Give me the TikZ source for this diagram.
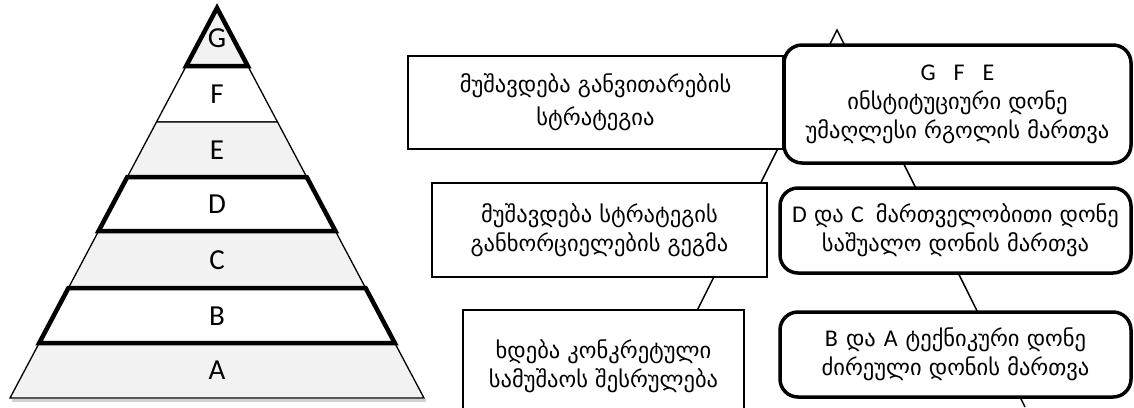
\documentclass[tikz,border=0pt]{standalone}
\usepackage{fontspec}
\setmainfont{Carlito}
\newfontfamily\geo{DejaVu Sans}
\definecolor{hellgrau}{HTML}{F2F2F2}
\newcommand\latn[1]{{\rmfamily\fontsize{24}{29}\selectfont #1}}

\begin{document}
\begin{tikzpicture}[x=1pt,y=-1pt,
	stufe/.style={font=\fontsize{29}{29}\selectfont},
	kasten/.style={draw, line width=2.2pt, fill=white, align=center, inner sep=0pt,
		font=\geo\fontsize{22.5}{29}\selectfont},
	rkasten/.style={kasten, line width=3.5pt, rounded corners=18pt}]
	
	\useasboundingbox (0,0) rectangle (1134,407);
	\clip (0,0) rectangle (1134,407);
	
	%Pyramide links
	\draw[gray!35, line width=2.5pt] (12,400.5) -- (426,400.5); %Schatten
	\draw[line width=1.3pt, fill=white] (186.2,66) -- (247.8,66) -- (277.5,122) -- (156.5,122) -- cycle; %F
	\draw[line width=1.3pt, fill=hellgrau] (156.5,122) -- (277.5,122) -- (306.7,177) -- (127.3,177) -- cycle; %E
	\draw[line width=1.3pt, fill=hellgrau] (98.6,231) -- (335.4,231) -- (365.6,288) -- (68.4,288) -- cycle; %C
	\draw[line width=1.3pt, fill=hellgrau] (39.2,343) -- (394.8,343) -- (424,398) -- (10,398) -- cycle; %A
	\draw[line width=4.5pt, fill=hellgrau] (217,8) -- (247.8,66) -- (186.2,66) -- cycle; %G
	\draw[line width=4.5pt, fill=white] (127.3,177) -- (306.7,177) -- (335.4,231) -- (98.6,231) -- cycle; %D
	\draw[line width=4.5pt, fill=white] (68.4,288) -- (365.6,288) -- (394.8,343) -- (39.2,343) -- cycle; %B
	
	\node[stufe] (g) at (217,38) {G};
	\node[stufe] (f) at (217,94) {F};
	\node[stufe] (e) at (217,150) {E};
	\node[stufe] (d) at (217,204) {D};
	\node[stufe] (c) at (217,260) {C};
	\node[stufe] (b) at (217,316) {B};
	\node[stufe] (a) at (217,370) {A};
	
	%Pyramide rechts (hinter den Kaesten)
	\draw[line width=1.5pt] (649,407) -- (837,30) -- (1025,407);
	
	%Kaesten links
	\node[kasten, minimum width=375, minimum height=93] (strategie) at (595.5,102.5)
		{მუშავდება განვითარების\\[4pt]სტრატეგია};
	\node[kasten, minimum width=335, minimum height=94] (plan) at (599.5,230)
		{მუშავდება სტრატეგის\\განხორციელების გეგმა};
	\node[kasten, minimum width=281, minimum height=112] (arbeit) at (603.5,366)
		{ხდება კონკრეტული\\სამუშაოს შესრულება};
	
	%Kaesten rechts
	\node[rkasten, minimum width=347, minimum height=118] (oben) at (957.5,104)
		{\latn{G\hspace{18pt}F\hspace{18pt}E}\\ინსტიტუციური დონე\\უმაღლესი რგოლის მართვა};
	\node[rkasten, minimum width=351, minimum height=85] (mitte) at (955.5,230.5)
		{\latn{D} და \latn{C}\hspace{12pt}მართველობითი დონე\\საშუალო დონის მართვა};
	\node[rkasten, minimum width=351, minimum height=85] (unten) at (955.5,354.5)
		{\latn{B}\hspace{8pt}და\hspace{8pt}\latn{A}\hspace{8pt}ტექნიკური დონე\\ძირეული დონის მართვა};
	
\end{tikzpicture}
\end{document}
